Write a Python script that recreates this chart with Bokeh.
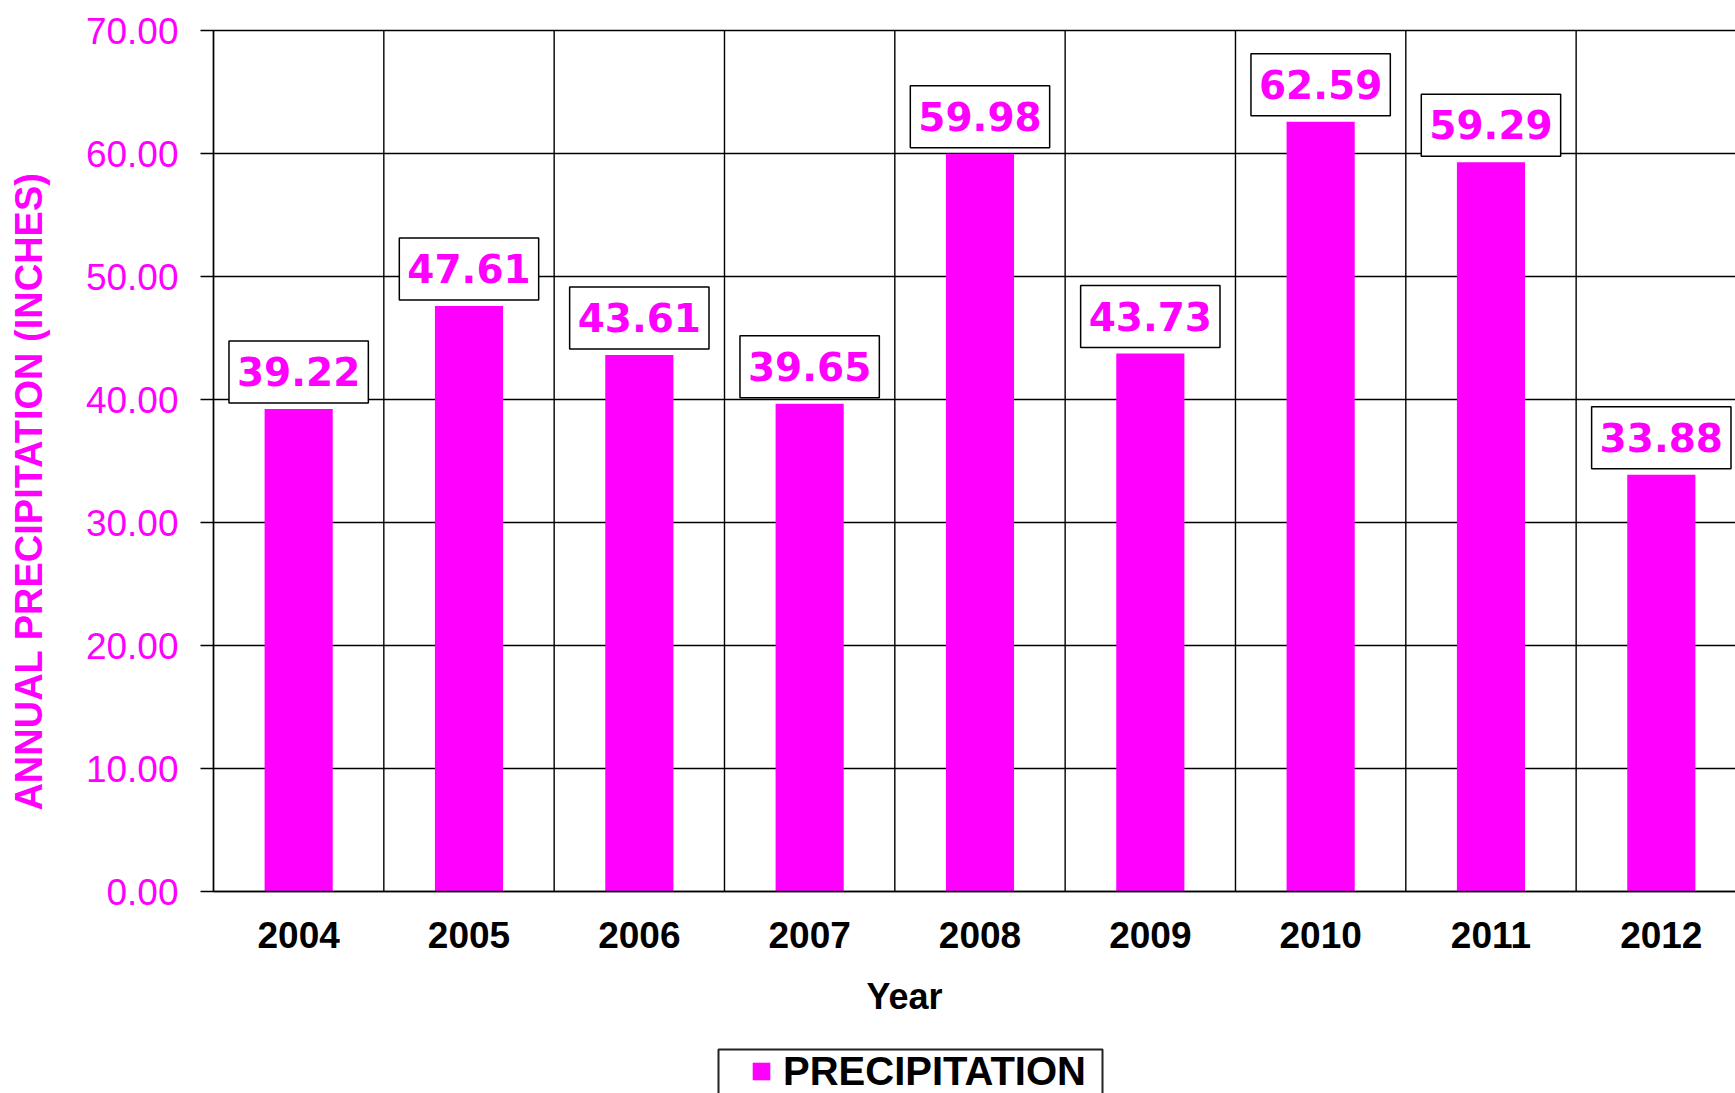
from bokeh.plotting import figure
from bokeh.models import (Range1d, FixedTicker, PrintfTickFormatter, Label,
                          Legend, LegendItem, BoxAnnotation)
from bokeh.embed import file_html
from bokeh.resources import INLINE
import math

# ---- data ----
years = ["2004", "2005", "2006", "2007", "2008", "2009", "2010", "2011", "2012"]
precip = [39.22, 47.61, 43.61, 39.65, 59.98, 43.73, 62.59, 59.29, 33.88]
y_ticks = [0, 10, 20, 30, 40, 50, 60, 70]
series_name = "PRECIPITATION"
x_title = "Year"
y_title = "ANNUAL PRECIPITATION (INCHES)"

MAGENTA = "#FF00FF"

xs = [i + 0.5 for i in range(len(years))]
bounds = list(range(len(years) + 1))
n = len(years)
ytop = y_ticks[-1]

# plot area of the reference: x 213..(off the right edge), y 30..891 px
W, H = 1735, 1093
PX_PER_CAT = 170.33
PX_PER_UNIT = 12.3
x_lo = -213 / PX_PER_CAT
x_hi = (W - 213) / PX_PER_CAT
y_hi = ytop + 30 / PX_PER_UNIT
y_lo = -(H - 891) / PX_PER_UNIT

p = figure(width=W, height=H, output_backend="svg", toolbar_location=None,
           x_range=Range1d(x_lo, x_hi), y_range=Range1d(y_lo, y_hi),
           min_border=0)
p.outline_line_color = None
p.background_fill_color = "white"
p.border_fill_color = "white"
p.xgrid.visible = False
p.ygrid.visible = False

# grid lines (category boundaries and value ticks) within the plot area
p.segment(x0=bounds, y0=[0] * len(bounds), x1=bounds, y1=[ytop] * len(bounds),
          line_color="black", line_width=1.4)
p.segment(x0=[0] * len(y_ticks), y0=y_ticks, x1=[n] * len(y_ticks), y1=y_ticks,
          line_color="black", line_width=1.4)

# y axis
yax = p.yaxis[0]
yax.fixed_location = 0
yax.bounds = (0, ytop)
yax.ticker = FixedTicker(ticks=y_ticks)
yax.formatter = PrintfTickFormatter(format="%.2f")
yax.major_tick_out = 13
yax.major_tick_in = 0
yax.minor_tick_out = 0
yax.minor_tick_in = 0
yax.major_tick_line_color = "black"
yax.major_tick_line_width = 1.4
yax.axis_line_color = "black"
yax.axis_line_width = 1.4
yax.major_label_standoff = 22
yax.major_label_text_font = "Liberation Sans"
yax.major_label_text_font_size = "37px"
yax.major_label_text_color = MAGENTA

# x axis
xax = p.xaxis[0]
xax.fixed_location = 0
xax.bounds = (0, n)
xax.ticker = FixedTicker(ticks=xs)
xax.major_label_overrides = {x: y for x, y in zip(xs, years)}
xax.major_tick_out = 0
xax.major_tick_in = 0
xax.minor_tick_out = 0
xax.minor_tick_in = 0
xax.axis_line_color = "black"
xax.axis_line_width = 1.4
xax.major_label_standoff = 30
xax.major_label_text_font = "Liberation Sans"
xax.major_label_text_font_style = "bold"
xax.major_label_text_font_size = "37px"
xax.major_label_text_color = "black"

# bars
bars = p.vbar(x=xs, top=precip, width=0.4, fill_color=MAGENTA, line_color=None)

# value labels
for x, v in zip(xs, precip):
    p.add_layout(Label(x=x, y=v, y_offset=6, text=f"{v:.2f}",
                       anchor="bottom_center",
                       padding=dict(left=8, right=8, top=16, bottom=17),
                       border_line_color="black", border_line_width=1.5,
                       background_fill_color="white",
                       text_font="DejaVu Sans", text_font_style="bold",
                       text_font_size="39px", text_color=MAGENTA))

# axis titles (screen units from the bottom-left of the canvas)
p.add_layout(Label(x=904, y=H - 996, x_units="screen", y_units="screen",
                   text=x_title, text_align="center", text_baseline="alphabetic",
                   text_font="Liberation Sans", text_font_style="bold",
                   text_font_size="36px", text_color="black"))
p.add_layout(Label(x=28, y=H - 491, x_units="screen", y_units="screen",
                   angle=math.pi / 2, text=y_title, text_align="center",
                   text_baseline="alphabetic",
                   text_font="Liberation Sans", text_font_style="bold",
                   text_font_size="38px", text_color=MAGENTA))

# legend frame (runs off the bottom edge like the reference)
p.add_layout(BoxAnnotation(left=718, right=1102, bottom=-30, top=H - 1049,
                           left_units="screen", right_units="screen",
                           bottom_units="screen", top_units="screen",
                           fill_alpha=0, line_color="#222222", line_alpha=1.0,
                           line_width=2))

legend = Legend(items=[LegendItem(label=series_name, renderers=[bars])],
                location=(750, -1), orientation="horizontal",
                padding=0, margin=0, spacing=0,
                glyph_width=22, glyph_height=22, label_standoff=11,
                label_height=46,
                label_text_font="Liberation Sans", label_text_font_style="bold",
                label_text_font_size="40px", label_text_color="black",
                border_line_color=None, background_fill_alpha=0)
p.add_layout(legend)

open("out.html", "w").write(file_html(p, INLINE))
